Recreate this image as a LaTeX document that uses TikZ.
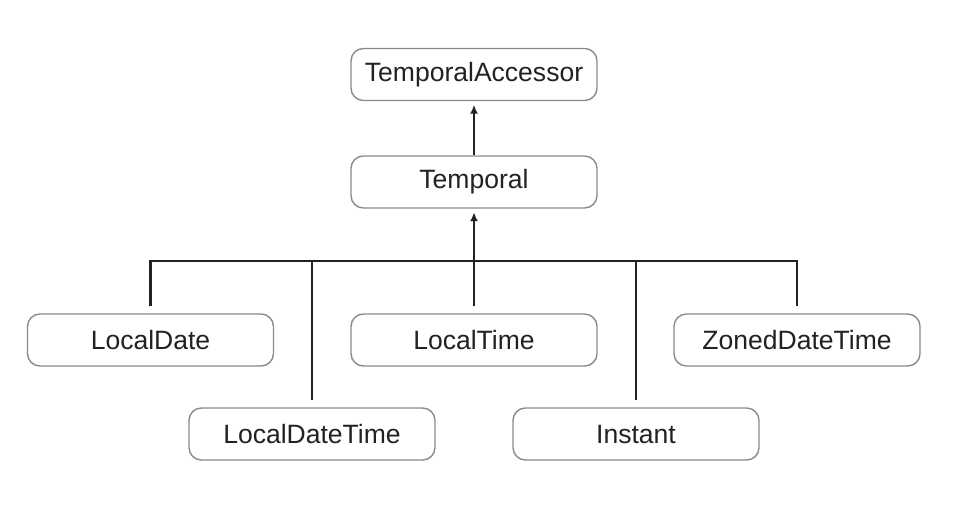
\documentclass[tikz,border=0pt]{standalone}
\usepackage{fontspec}
\setmainfont{Liberation Sans}
\usetikzlibrary{arrows.meta, positioning}
\definecolor{boxgray}{HTML}{8A8A8A}
\definecolor{inkdark}{HTML}{222222}
\tikzset{
    cls/.style={rectangle, rounded corners=7pt, draw=boxgray, line width=0.8pt, fill=white,
        minimum width=4.92cm, minimum height=1.04cm, align=center, text=inkdark,
        font=\fontsize{15.1}{17}\selectfont},
    link/.style={line width=1.15pt, inkdark},
    arr/.style={-{Latex[length=1.8mm, width=1.6mm]}, line width=1.15pt, inkdark, shorten >=2pt},
}

\begin{document}
\begin{tikzpicture}[x=0.02cm, y=0.02cm]

\useasboundingbox (0,0) rectangle (970,-514);

% ── Interfaces ──
\node[cls] (acc) at (474, -74.5) {TemporalAccessor};
\node[cls] (temp) at (474, -182) {Temporal};

% ── Implementations ──
\node[cls] (ldate) at (150.5, -340) {LocalDate};
\node[cls] (ltime) at (474, -340) {LocalTime};
\node[cls] (zdt) at (797, -340) {ZonedDateTime};
\node[cls] (ldt) at (312, -434) {LocalDateTime};
\node[cls] (inst) at (636, -434) {Instant};

\coordinate (bus) at (474, -261);

% ── Connectors ──
\draw[arr] (temp) -- (acc);
\draw[arr] (bus) -- (temp);
\draw[link, line cap=rect] (ldate.north |- bus) -- (zdt.north |- bus);
\draw[link, shorten <=4pt] (ldate) -- (ldate.north |- bus);
\draw[link, shorten <=4pt] (ltime) -- (ltime.north |- bus);
\draw[link, shorten <=4pt] (zdt) -- (zdt.north |- bus);
\draw[link, shorten <=4pt] (ldt) -- (ldt.north |- bus);
\draw[link, shorten <=4pt] (inst) -- (inst.north |- bus);

\end{tikzpicture}
\end{document}
